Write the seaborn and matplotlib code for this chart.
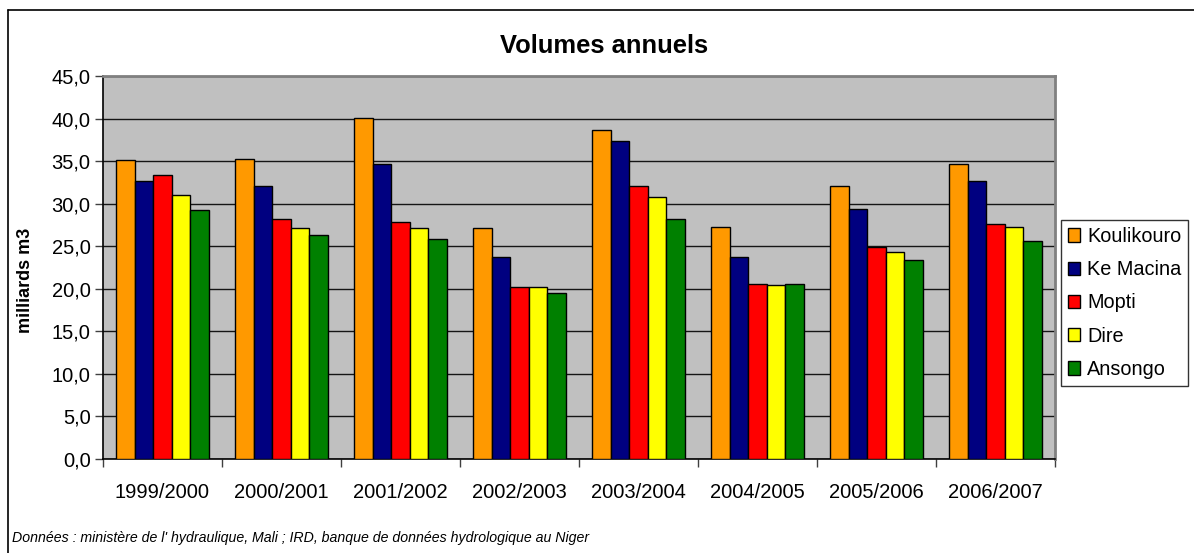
import matplotlib
matplotlib.use("Agg")
import matplotlib.pyplot as plt
from matplotlib.lines import Line2D
from matplotlib.ticker import FuncFormatter, FixedLocator
import seaborn as sns
import pandas as pd

# Annual volumes (billions of m3) per hydrological year and station
periods = ["1999/2000", "2000/2001", "2001/2002", "2002/2003",
           "2003/2004", "2004/2005", "2005/2006", "2006/2007"]
stations = ["Koulikouro", "Ke Macina", "Mopti", "Dire", "Ansongo"]
koulikouro = [35.1, 35.3, 40.1, 27.1, 38.6, 27.3, 32.1, 34.7]
ke_macina = [32.7, 32.1, 34.7, 23.7, 37.4, 23.7, 29.4, 32.7]
mopti = [33.4, 28.2, 27.8, 20.2, 32.1, 20.6, 24.9, 27.6]
dire = [31.0, 27.1, 27.1, 20.2, 30.8, 20.4, 24.3, 27.3]
ansongo = [29.3, 26.3, 25.8, 19.5, 28.2, 20.6, 23.4, 25.6]
colors = ["#FF9900", "#000080", "#FF0000", "#FFFF00", "#008000"]

series = [koulikouro, ke_macina, mopti, dire, ansongo]
df = pd.DataFrame(
    [(p, s, v) for s, vals in zip(stations, series) for p, v in zip(periods, vals)],
    columns=["period", "station", "volume"],
)

sns.set_theme(style="white")
plt.rcParams["font.family"] = ["Liberation Sans", "DejaVu Sans"]
plt.rcParams.update({"text.color": "black", "axes.labelcolor": "black",
                     "xtick.color": "black", "ytick.color": "black"})

W, H = 1194, 553
fig = plt.figure(figsize=(W / 100, H / 100), dpi=100)
ax = fig.add_axes([103 / W, 1 - 459 / H, (1055 - 103) / W, (459 - 76) / H])

sns.barplot(data=df, x="period", y="volume", hue="station", order=periods,
            hue_order=stations, palette=colors, width=0.78, edgecolor="black",
            linewidth=1.0, saturation=1, ax=ax, legend=True, zorder=3)

ax.set_facecolor("#C0C0C0")
ax.set_ylim(0, 45)
ax.set_xlim(-0.5, len(periods) - 0.5)
ax.set_yticks([i * 5 for i in range(10)])
ax.yaxis.set_major_formatter(FuncFormatter(lambda v, _: f"{v:.1f}".replace(".", ",")))
ax.grid(axis="y", color="#151515", linewidth=1.0, zorder=1)
ax.set_axisbelow(True)

# category separators as minor ticks, labels centred without tick marks
ax.xaxis.set_minor_locator(FixedLocator([i - 0.5 for i in range(len(periods) + 1)]))
ax.tick_params(axis="x", which="major", length=0, pad=17, labelsize=14.5)
ax.tick_params(axis="x", which="minor", length=6, width=1, color="#404040", bottom=True)
ax.tick_params(axis="y", which="major", length=6, width=1, color="#404040", left=True,
               pad=3, labelsize=14.5)
ax.set_xlabel("")
ax.set_ylabel("")

for side in ["left", "bottom"]:
    ax.spines[side].set_color("black")
    ax.spines[side].set_linewidth(1.2)
for side in ["top", "right"]:
    ax.spines[side].set_color("#808080")
    ax.spines[side].set_linewidth(2)

handles, labels = ax.get_legend_handles_labels()
ax.get_legend().remove()
leg = fig.legend(handles, labels, loc="center left", bbox_to_anchor=(1061 / W, 1 - 303 / H),
                 frameon=True, fancybox=False, edgecolor="black", fontsize=14.3,
                 handlelength=0.65, handleheight=0.65, handletextpad=0.33,
                 labelspacing=0.72, borderpad=0.33, borderaxespad=0)
leg.get_frame().set_linewidth(1)

fig.text(25 / W, 1 - 280 / H, "milliards m3", rotation=90, ha="center", va="center",
         fontsize=13, fontweight="bold")
fig.text(604 / W, 1 - 46 / H, "Volumes annuels", ha="center", va="center",
         fontsize=18.4, fontweight="bold")
fig.text(12 / W, 1 - 538 / H,
         "Données : ministère de l' hydraulique, Mali ; IRD, banque de données hydrologique au Niger",
         ha="left", va="center", fontsize=10.2, style="italic")

# outer chart frame
fig.add_artist(Line2D([8 / W, 1], [1 - 10 / H, 1 - 10 / H], color="black", linewidth=1.2))
fig.add_artist(Line2D([8 / W, 8 / W], [0, 1 - 10 / H], color="black", linewidth=1.2))

fig.savefig("out.png", dpi=100)
